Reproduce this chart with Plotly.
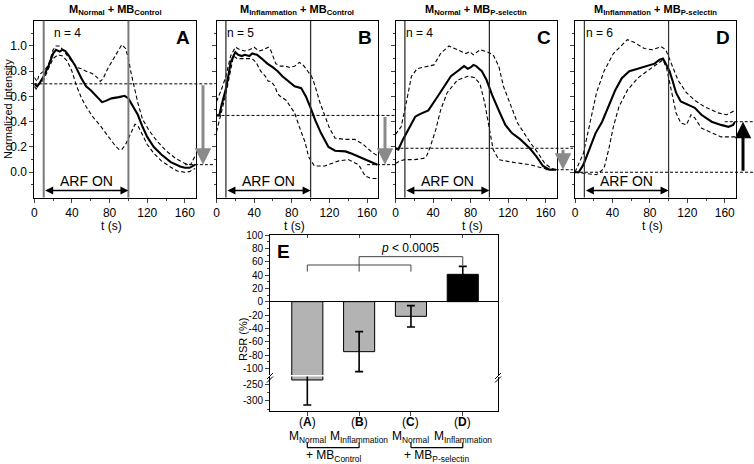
import plotly.graph_objects as go

W, H = 754, 464
FONT = "Liberation Sans, Arial, sans-serif"

# ---------------- data: panels A-D (normalized intensity vs time) ----------------
panel_titles = [
    "<b>M<sub>Normal</sub> + MB<sub>Control</sub></b>",
    "<b>M<sub>Inflammation</sub> + MB<sub>Control</sub></b>",
    "<b>M<sub>Normal</sub> + MB<sub>P-selectin</sub></b>",
    "<b>M<sub>Inflammation</sub> + MB<sub>P-selectin</sub></b>",
]
panel_letters = ["A", "B", "C", "D"]
panel_n = [4, 5, 4, 6]
arf_on_window = [10, 100]

A_mean_t = [0, 3, 6, 10, 15, 20, 23, 27, 30, 33, 37, 43, 50, 55, 60, 67, 72, 76, 82, 90, 96, 100, 105, 110, 115, 120, 127, 135, 145, 155, 160, 165, 171]
A_mean = [0.70, 0.68, 0.71, 0.76, 0.84, 0.94, 0.97, 0.955, 0.97, 0.96, 0.92, 0.85, 0.745, 0.68, 0.65, 0.59, 0.555, 0.565, 0.585, 0.595, 0.605, 0.585, 0.52, 0.455, 0.36, 0.28, 0.20, 0.14, 0.08, 0.045, 0.035, 0.035, 0.06]
A_up_t = [0, 3, 5, 10, 15, 20, 23, 27, 30, 35, 40, 45, 50, 55, 62, 67, 70, 73, 78, 84, 90, 93, 97, 100, 103, 106, 110, 115, 122, 130, 140, 150, 160, 166, 171]
A_up = [0.75, 0.72, 0.77, 0.80, 0.85, 0.97, 1.0, 1.0, 0.97, 0.92, 0.87, 0.83, 0.82, 0.80, 0.78, 0.75, 0.72, 0.74, 0.82, 0.90, 0.97, 1.01, 0.98, 0.90, 0.78, 0.68, 0.55, 0.42, 0.33, 0.25, 0.17, 0.11, 0.07, 0.06, 0.13]
A_lo_t = [0, 2, 5, 10, 15, 20, 25, 30, 35, 40, 45, 50, 55, 62, 70, 78, 85, 90, 93, 97, 100, 103, 107, 110, 115, 120, 127, 135, 145, 152, 160, 165, 171]
A_lo = [0.68, 0.66, 0.70, 0.73, 0.82, 0.90, 0.93, 0.92, 0.88, 0.80, 0.68, 0.59, 0.52, 0.44, 0.37, 0.29, 0.22, 0.18, 0.18, 0.22, 0.27, 0.32, 0.38, 0.37, 0.30, 0.22, 0.15, 0.09, 0.04, 0.01, 0.0, 0.005, 0.03]

B_mean_t = [0, 3, 5, 8, 10, 13, 15, 18, 20, 23, 27, 30, 35, 38, 43, 48, 54, 60, 65, 70, 76, 83, 90, 95, 100, 105, 111, 119, 126, 137, 144, 155, 165, 171]
B_mean = [0.45, 0.45, 0.52, 0.60, 0.66, 0.78, 0.87, 0.92, 0.95, 0.93, 0.92, 0.93, 0.92, 0.94, 0.93, 0.90, 0.86, 0.83, 0.80, 0.76, 0.72, 0.68, 0.665, 0.60, 0.51, 0.41, 0.31, 0.20, 0.17, 0.165, 0.146, 0.11, 0.08, 0.06]
B_up_t = [0, 5, 10, 15, 20, 25, 30, 35, 40, 45, 50, 55, 58, 63, 68, 73, 78, 83, 88, 92, 97, 101, 104, 110, 115, 120, 126, 137, 147, 156, 165, 171]
B_up = [0.56, 0.65, 0.76, 0.92, 0.99, 0.97, 0.96, 0.97, 0.99, 0.96, 0.97, 0.99, 0.96, 0.86, 0.84, 0.84, 0.83, 0.84, 0.87, 0.85, 0.80, 0.76, 0.70, 0.55, 0.45, 0.35, 0.27, 0.26, 0.26, 0.22, 0.16, 0.13]
B_lo_t = [0, 3, 5, 10, 15, 18, 22, 27, 33, 38, 42, 47, 52, 55, 58, 62, 65, 68, 74, 83, 88, 94, 98, 104, 115, 130, 140, 151, 158, 165, 171]
B_lo = [0.32, 0.40, 0.47, 0.62, 0.82, 0.92, 0.90, 0.90, 0.90, 0.90, 0.87, 0.80, 0.76, 0.72, 0.72, 0.68, 0.62, 0.60, 0.57, 0.47, 0.36, 0.24, 0.12, 0.05, 0.05, 0.09, 0.10, 0.06, -0.03, -0.05, -0.05]

C_mean_t = [0, 3, 8, 15, 21, 26, 35, 44, 52, 59, 66, 73, 77, 80, 83, 86, 89, 92, 97, 103, 110, 117, 124, 133, 143, 150, 157, 164, 171]
C_mean = [0.19, 0.18, 0.26, 0.36, 0.44, 0.46, 0.49, 0.59, 0.68, 0.76, 0.80, 0.84, 0.82, 0.83, 0.85, 0.84, 0.82, 0.80, 0.73, 0.61, 0.49, 0.375, 0.31, 0.26, 0.19, 0.125, 0.05, 0.02, 0.02]
C_up_t = [0, 6, 12, 17, 23, 33, 41, 48, 57, 66, 75, 79, 83, 90, 97, 104, 110, 115, 123, 130, 137, 144, 152, 159, 166, 171]
C_up = [0.30, 0.36, 0.57, 0.76, 0.82, 0.84, 0.85, 0.94, 1.0, 0.97, 0.94, 0.955, 0.93, 0.97, 0.955, 0.93, 0.84, 0.68, 0.52, 0.39, 0.31, 0.23, 0.15, 0.07, 0.03, 0.02]
C_lo_t = [0, 5, 10, 20, 30, 33, 37, 43, 48, 55, 66, 77, 84, 90, 95, 101, 104, 110, 124, 143, 161, 171]
C_lo = [0.07, 0.09, 0.10, 0.10, 0.11, 0.125, 0.20, 0.34, 0.49, 0.63, 0.73, 0.76, 0.75, 0.70, 0.55, 0.31, 0.18, 0.10, 0.08, 0.06, 0.025, 0.02]

D_mean_t = [0, 4, 9, 16, 22, 29, 36, 43, 50, 58, 67, 77, 85, 90, 94, 97, 101, 104, 108, 113, 121, 128, 135, 146, 156, 164, 169, 171]
D_mean = [0.0, 0.0, 0.06, 0.19, 0.31, 0.40, 0.52, 0.65, 0.745, 0.80, 0.82, 0.84, 0.86, 0.89, 0.90, 0.86, 0.80, 0.73, 0.63, 0.56, 0.53, 0.51, 0.455, 0.40, 0.375, 0.36, 0.375, 0.40]
D_up_t = [0, 9, 16, 23, 31, 41, 56, 63, 74, 83, 92, 97, 103, 110, 119, 128, 138, 153, 162, 171]
D_up = [0.0, 0.15, 0.39, 0.63, 0.80, 0.94, 1.05, 1.03, 0.98, 0.97, 0.995, 0.97, 0.86, 0.73, 0.63, 0.57, 0.52, 0.47, 0.455, 0.49]
D_lo_t = [0, 13, 23, 31, 36, 41, 47, 56, 67, 77, 88, 94, 98, 103, 108, 113, 119, 124, 128, 135, 146, 156, 171]
D_lo = [0.0, -0.01, -0.02, 0.03, 0.18, 0.36, 0.52, 0.65, 0.745, 0.80, 0.86, 0.89, 0.82, 0.63, 0.47, 0.39, 0.375, 0.455, 0.43, 0.35, 0.31, 0.28, 0.28]

# ---------------- data: panel E (RSR) ----------------
rsr_groups = ["A", "B", "C", "D"]
rsr_mean = [-237, -75, -22, 41]
rsr_sd = [75, 30, 16, 12]
rsr_colors = ["#b3b3b3", "#b3b3b3", "#b3b3b3", "#000000"]
rsr_macro = ["Normal", "Inflammation", "Normal", "Inflammation"]
rsr_mb = ["Control", "P-selectin"]
upper_ticks = [100, 80, 60, 40, 20, 0, -20, -40, -60, -80, -100]
lower_ticks = [-250, -300]
p_text = "<i>p</i> < 0.0005"

curves = [
    (A_mean_t, A_mean, A_up_t, A_up, A_lo_t, A_lo),
    (B_mean_t, B_mean, B_up_t, B_up, B_lo_t, B_lo),
    (C_mean_t, C_mean, C_up_t, C_up, C_lo_t, C_lo),
    (D_mean_t, D_mean, D_up_t, D_up, D_lo_t, D_lo),
]

# ---------------- layout geometry ----------------
XR = [0, 171.5]
YR = [-0.2, 1.2]
px_dom = [(34.3, 195.7), (216.5, 377.9), (395.5, 556.5), (575.0, 735.5)]
arrow_px = [203, 385, 563, 743]
arrow_col = ["#8a8a8a", "#8a8a8a", "#8a8a8a", "#000000"]
vline_col = ["#7a7a7a", "#333333", "#222222", "#333333"]
vline_w = [2, 1.3, 1.2, 1.2]
n_pos = [19, 9, 9, 10]
ytop_px, ybot_px = 20.7, 197.5


def pxX(p):
    return p / W


def pxY(p):
    return 1 - p / H


def t2paper(i, t):
    a, b = px_dom[i]
    return (a + (t - XR[0]) / (XR[1] - XR[0]) * (b - a)) / W


def note(**kw):
    d = dict(showarrow=False, xanchor="center", yanchor="middle")
    d.update(kw)
    return d


fig = go.Figure()
layout = dict(
    width=W, height=H, margin=dict(l=0, r=0, t=0, b=0, pad=0, autoexpand=False),
    paper_bgcolor="white", plot_bgcolor="white", showlegend=False,
    font=dict(family=FONT, color="black", size=12),
)
shapes = []
annotations = []

for i in range(4):
    s = "" if i == 0 else str(i + 1)
    xa, ya = "x" + s, "y" + s
    mt, mv, ut, uv, lt, lv = curves[i]
    for tt, vv in ((lt, lv), (ut, uv)):
        fig.add_trace(go.Scatter(x=tt, y=vv, xaxis=xa, yaxis=ya, mode="lines",
                                 line=dict(color="black", width=1.1, dash="4px,2.5px"),
                                 hoverinfo="skip"))
    fig.add_trace(go.Scatter(x=mt, y=mv, xaxis=xa, yaxis=ya, mode="lines",
                             line=dict(color="black", width=2.1), hoverinfo="skip"))

    layout["xaxis" + s] = dict(
        domain=[px_dom[i][0] / W, px_dom[i][1] / W], anchor=ya, range=XR, automargin=False,
        tickvals=[0, 40, 80, 120, 160], ticks="outside", ticklen=4, tickwidth=1,
        minor=dict(tickvals=[20, 60, 100, 140], ticks="outside", ticklen=2),
        showline=True, mirror=True, linecolor="black", linewidth=1,
        showgrid=False, zeroline=False, tickfont=dict(size=12, family=FONT))
    layout["yaxis" + s] = dict(
        domain=[pxY(ybot_px), pxY(ytop_px)], anchor=xa, range=YR, automargin=False,
        tickvals=[0, 0.2, 0.4, 0.6, 0.8, 1.0],
        ticktext=["0.0", "0.2", "0.4", "0.6", "0.8", "1.0"],
        showticklabels=(i == 0), ticks="outside", ticklen=4,
        minor=dict(tickvals=[-0.1, 0.1, 0.3, 0.5, 0.7, 0.9, 1.1], ticks="outside", ticklen=2),
        showline=True, mirror=True, linecolor="black", linewidth=1,
        showgrid=False, zeroline=False, tickfont=dict(size=12, family=FONT))

    # ARF ON window lines
    for tv in arf_on_window:
        shapes.append(dict(type="line", xref=xa, yref=ya + " domain", x0=tv, x1=tv, y0=0, y1=1,
                           line=dict(color=vline_col[i], width=vline_w[i])))
    annotations.append(dict(xref=xa, yref=ya, x=arf_on_window[1], y=-0.145,
                            ax=arf_on_window[0], ay=-0.145, axref=xa, ayref=ya,
                            text="", showarrow=True, arrowside="end+start",
                            arrowhead=2, arrowsize=1, arrowwidth=1.6, arrowcolor="black",
                            standoff=0, startstandoff=0))
    annotations.append(note(xref=xa, yref=ya, x=sum(arf_on_window) / 2, y=-0.072,
                            text="ARF ON", font=dict(size=14)))
    # labels
    annotations.append(note(xref=xa, yref=ya, x=158, y=1.07, text="<b>%s</b>" % panel_letters[i],
                            font=dict(size=19)))
    annotations.append(note(xref=xa, yref=ya, x=n_pos[i], y=1.10, xanchor="left",
                            text="n = %d" % panel_n[i], font=dict(size=12)))
    annotations.append(note(xref="paper", yref="paper",
                            x=(px_dom[i][0] + px_dom[i][1]) / 2 / W, y=pxY(10),
                            text=panel_titles[i], font=dict(size=11)))
    annotations.append(note(xref="paper", yref="paper",
                            x=(px_dom[i][0] + px_dom[i][1]) / 2 / W - 0.004, y=pxY(226),
                            text="t (s)", font=dict(size=12)))

    # start / end reference lines and change arrow
    v0, v1 = mv[0], mv[-1]
    x_end = (arrow_px[i] + 10) / W
    shapes.append(dict(type="line", xref="paper", yref=ya, x0=t2paper(i, 0), x1=x_end,
                       y0=v0, y1=v0, line=dict(color="black", width=1, dash="3px,2px")))
    shapes.append(dict(type="line", xref="paper", yref=ya, x0=t2paper(i, 160), x1=x_end,
                       y0=v1, y1=v1, line=dict(color="black", width=1, dash="3px,2px")))
    annotations.append(dict(xref="paper", yref=ya, x=arrow_px[i] / W, y=v1,
                            axref="pixel", ayref=ya, ax=0, ay=v0, text="", showarrow=True,
                            arrowhead=2, arrowsize=1.1, arrowwidth=3, arrowcolor=arrow_col[i],
                            standoff=0))

annotations.append(note(xref="paper", yref="paper", x=pxX(8), y=pxY(109),
                        text="Normalized Intensity", textangle=-90, font=dict(size=11)))

# ---------------- panel E ----------------
cat = list(range(len(rsr_groups)))
E_x0, E_x1 = 270, 498
E_up = (235, 375)
E_lo = (376.5, 411)
for xa, ya in (("x5", "y5"), ("x6", "y6")):
    fig.add_trace(go.Bar(x=cat, y=rsr_mean, xaxis=xa, yaxis=ya, width=0.6,
                         marker=dict(color=rsr_colors, line=dict(color="black", width=1)),
                         error_y=dict(type="data", array=rsr_sd, color="black",
                                      thickness=1.6, width=4),
                         hoverinfo="skip"))

layout["xaxis5"] = dict(domain=[E_x0 / W, E_x1 / W], anchor="y5", range=[-0.72, 3.68],
                        side="top", showline=True, linecolor="black", linewidth=1, automargin=False,
                        tickvals=cat, ticks="inside", ticklen=3, showticklabels=False,
                        showgrid=False, zeroline=False)
layout["xaxis6"] = dict(domain=[E_x0 / W, E_x1 / W], anchor="y6", matches="x5", automargin=False,
                        range=[-0.72, 3.68], showline=True, linecolor="black", linewidth=1,
                        tickvals=cat, ticks="outside", ticklen=4, showticklabels=False,
                        showgrid=False, zeroline=False)
layout["yaxis5"] = dict(domain=[pxY(E_up[1]), pxY(E_up[0])], anchor="x5", range=[-110, 100],
                        tickvals=upper_ticks, ticktext=[str(v) for v in upper_ticks],
                        ticks="outside", ticklen=4, automargin=False,
                        minor=dict(tickvals=[v - 10 for v in upper_ticks[:-1]], ticks="outside", ticklen=2),
                        showline=True, mirror=True, linecolor="black", linewidth=1,
                        showgrid=False, zeroline=True, zerolinecolor="black", zerolinewidth=1,
                        tickfont=dict(size=10, family=FONT))
layout["yaxis6"] = dict(domain=[pxY(E_lo[1]), pxY(E_lo[0])], anchor="x6", range=[-330, -226.6],
                        tickvals=lower_ticks, ticktext=[str(v) for v in lower_ticks],
                        ticks="outside", ticklen=4, automargin=False,
                        minor=dict(tickvals=[-275, -325], ticks="outside", ticklen=2),
                        showline=True, mirror=True, linecolor="black", linewidth=1,
                        showgrid=False, zeroline=False, tickfont=dict(size=10, family=FONT))

# axis break marks
for bx in (E_x0, E_x1):
    for dy in (0, 3.5):
        shapes.append(dict(type="line", xref="paper", yref="paper",
                           x0=pxX(bx - 3), x1=pxX(bx + 3), y0=pxY(379 + dy), y1=pxY(373 + dy),
                           line=dict(color="black", width=1)))

# significance brackets (data coordinates of panel E)
br_lo, br_leg, br_hi = 55, 45, 67.5
bc = "#444444"
for (x0, y0, x1, y1) in [(0, br_lo, 2, br_lo), (0, br_leg, 0, br_lo), (2, br_leg, 2, br_lo),
                         (1, br_leg, 1, br_hi), (1, br_hi, 3, br_hi), (3, br_lo, 3, br_hi)]:
    shapes.append(dict(type="line", xref="x5", yref="y5", x0=x0, x1=x1, y0=y0, y1=y1,
                       line=dict(color=bc, width=1)))
annotations.append(note(xref="x5", yref="y5", x=1.98, y=80.5, text=p_text, font=dict(size=12)))
annotations.append(note(xref="x5", yref="y5", x=-0.45, y=75, text="<b>E</b>", font=dict(size=19)))
annotations.append(note(xref="paper", yref="paper", x=pxX(243), y=pxY(340), text="RSR (%)",
                        textangle=-90, font=dict(size=11)))

# category labels below panel E
for k in cat:
    annotations.append(note(xref="x5", yref="paper", x=k, y=pxY(422),
                            text="(<b>%s</b>)" % rsr_groups[k], font=dict(size=12)))
    annotations.append(note(xref="x5", yref="paper", x=k, y=pxY(437),
                            text="M<sub>%s</sub>" % rsr_macro[k], font=dict(size=12)))
for g in range(2):
    a, b = 2 * g, 2 * g + 1
    shapes.append(dict(type="line", xref="x5", yref="paper", x0=a, x1=b, y0=pxY(447.7), y1=pxY(447.7),
                       line=dict(color="black", width=1.2)))
    for xx in (a, b):
        shapes.append(dict(type="line", xref="x5", yref="paper", x0=xx, x1=xx, y0=pxY(442.5), y1=pxY(447.7),
                           line=dict(color="black", width=1.2)))
    annotations.append(note(xref="x5", yref="paper", x=(a + b) / 2, y=pxY(456),
                            text="+ MB<sub>%s</sub>" % rsr_mb[g], font=dict(size=12)))

layout["shapes"] = shapes
layout["annotations"] = annotations
fig.update_layout(**layout)
fig.write_html("out.html", config={"displayModeBar": False},
               post_script="document.body.style.margin='0px';")
